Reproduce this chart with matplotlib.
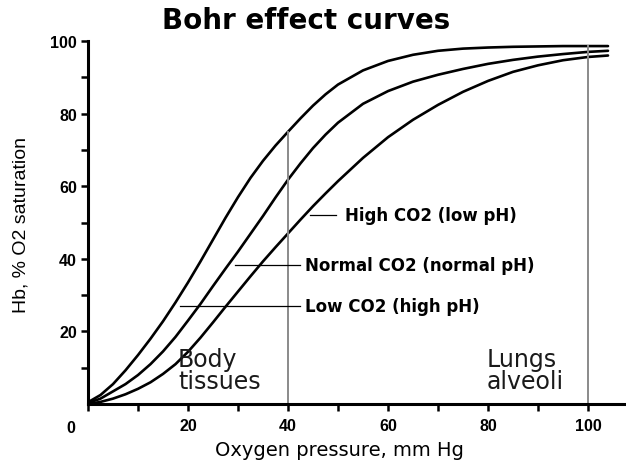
import matplotlib
matplotlib.use("Agg")
import matplotlib.pyplot as plt

# oxygen pressure (mm Hg) and % saturation
pressure = [0, 2.5, 5, 7.5, 10, 12.5, 15, 17.5, 20, 22.5, 25, 27.5, 30,
            32.5, 35, 37.5, 40, 42.5, 45, 47.5, 50, 55, 60, 65, 70, 75, 80,
            85, 90, 95, 100, 104]
low_co2 = [0.5, 2.5, 5.5, 9.3, 13.5, 18, 22.8, 28, 33.5, 39.3, 45.3, 51.3, 57,
           62.3, 67, 71.2, 75, 78.7, 82.2, 85.3, 88, 91.9, 94.5, 96.2, 97.3,
           97.9, 98.2, 98.4, 98.5, 98.6, 98.6, 98.6]
normal_co2 = [0.3, 1.5, 3.5, 5.5, 8, 11, 14.5, 18.5, 23, 27.6, 32.5, 37.3, 42,
              46.9, 51.8, 56.9, 61.8, 66.3, 70.5, 74.2, 77.5, 82.7, 86.2, 88.8,
              90.7, 92.3, 93.7, 94.8, 95.7, 96.4, 97, 97.3]
high_co2 = [0, 0.6, 1.5, 2.7, 4.2, 6, 8.3, 11, 14.4, 18.3, 22.5, 26.8, 31,
            35.2, 39.3, 43.2, 47, 50.8, 54.5, 58, 61.4, 67.8, 73.5, 78.3, 82.4,
            86, 89, 91.5, 93.3, 94.7, 95.6, 96]

label_texts = ["High CO2 (low pH)", "Normal CO2 (normal pH)", "Low CO2 (high pH)"]
label_y = [52, 38.3, 27]
label_line_x0 = [44.4, 29.4, 18.4]
label_line_x1 = [49.6, 42.3, 42.3]
label_text_x = [51.4, 43.4, 43.4]

fig = plt.figure(figsize=(6.26, 4.64), dpi=100)
ax = fig.add_axes([0.1406, 0.127, 0.8594, 0.7825])

for ys in (low_co2, normal_co2, high_co2):
    ax.plot(pressure, ys, color="black", lw=1.9, solid_capstyle="round",
            solid_joinstyle="round")

# reference lines for tissues and lungs
ax.plot([40, 40], [0, 75], color="#8a8a8a", lw=1.4)
ax.plot([100, 100], [0, 98.6], color="#8a8a8a", lw=1.4)

# curve labels with leader lines
for txt, y, x0, x1, tx in zip(label_texts, label_y, label_line_x0,
                              label_line_x1, label_text_x):
    ax.plot([x0, x1], [y, y], color="black", lw=0.9)
    ax.text(tx, y, txt, fontsize=12, fontweight="bold", va="center",
            ha="left", family="DejaVu Sans")

ax.text(18, 3, "Body\ntissues", fontsize=17, ha="left", va="bottom",
        color="#1a1a1a", linespacing=0.9)
ax.text(79.8, 3, "Lungs\nalveoli", fontsize=17, ha="left", va="bottom",
        color="#1a1a1a", linespacing=0.9)

ax.set_xlim(0, 107.6)
ax.set_ylim(0, 100)
ax.set_xticks([20, 40, 60, 80, 100])
ax.set_xticks([0, 10, 30, 50, 70, 90], minor=True)
ax.set_yticks([20, 40, 60, 80, 100])
ax.set_yticks([10, 30, 50, 70, 90], minor=True)
ax.tick_params(which="both", direction="out", length=5, width=1.8,
               labelsize=11.5)
ax.tick_params(axis="y", pad=3)
ax.tick_params(axis="x", pad=5)
for lab in ax.get_xticklabels() + ax.get_yticklabels():
    lab.set_fontweight("bold")
    lab.set_family("Liberation Sans")

for side in ("top", "right"):
    ax.spines[side].set_visible(False)
for side in ("left", "bottom"):
    ax.spines[side].set_linewidth(2.2)

ax.text(-2.5, -4.5, "0", fontsize=11.5, fontweight="bold",
        family="Liberation Sans", ha="right", va="top")

ax.set_xlabel("Oxygen pressure, mm Hg", fontsize=14, family="DejaVu Sans")
ax.xaxis.set_label_coords(0.468, -0.098)
ax.set_ylabel("Hb, % O2 saturation", fontsize=14, family="Liberation Sans")
ax.yaxis.set_label_coords(-0.108, 0.496)
fig.text(0.489, 0.955, "Bohr effect curves", fontsize=20, fontweight="heavy",
         ha="center", va="center", family="DejaVu Sans")

fig.savefig("out.png", dpi=100)
